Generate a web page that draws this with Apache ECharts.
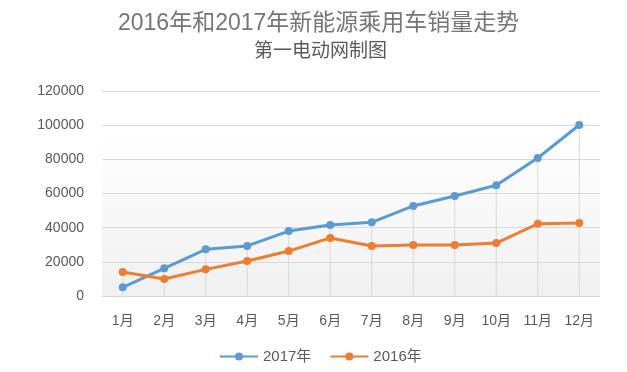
<!DOCTYPE html>
<html>
<head>
<meta charset="utf-8">
<script src="https://cdn.jsdelivr.net/npm/echarts@6/dist/echarts.min.js"></script>
<style>html,body{margin:0;padding:0;background:#fff}#c{width:627px;height:372px}</style>
</head>
<body>
<div id="c"></div>
<script>
const categories = ['1月','2月','3月','4月','5月','6月','7月','8月','9月','10月','11月','12月'];
const sales2017 = [5100, 16200, 27300, 29300, 38000, 41600, 43100, 52700, 58500, 64800, 80800, 100100];
const sales2016 = [14000, 9950, 15600, 20500, 26300, 34000, 29300, 29900, 29900, 31000, 42300, 42700];
const yTicks = { min: 0, max: 120000, interval: 20000 };
const dropTops = categories.map((c, i) => Math.max(sales2017[i], sales2016[i]));

const FONT = '"Liberation Sans", "Noto Sans CJK SC", sans-serif';
const chart = echarts.init(document.getElementById('c'), null, { renderer: 'canvas' });
chart.setOption({
  animation: false,
  textStyle: { fontFamily: FONT },
  title: [
    {
      text: '2016年和2017年新能源乘用车销量走势',
      left: 113,
      top: 7,
      textStyle: { fontFamily: FONT, fontSize: 23, fontWeight: 'normal', color: '#767676' }
    },
    {
      text: '第一电动网制图',
      left: 249,
      top: 37,
      textStyle: { fontFamily: FONT, fontSize: 19, fontWeight: 'normal', color: '#595959' }
    }
  ],
  legend: {
    data: ['2017年', '2016年'],
    bottom: 3,
    left: 214,
    itemWidth: 38,
    itemHeight: 10,
    itemGap: 18,
    textStyle: { fontFamily: FONT, fontSize: 15, color: '#595959' }
  },
  grid: {
    left: 102, right: 27, top: 91, bottom: 76,
    show: true,
    borderWidth: 0,
    backgroundColor: new echarts.graphic.LinearGradient(0, 0, 0, 1, [
      { offset: 0, color: '#ffffff' },
      { offset: 0.2, color: '#ffffff' },
      { offset: 1, color: '#f0f0f0' }
    ])
  },
  xAxis: {
    type: 'category',
    data: categories,
    boundaryGap: true,
    axisLine: { show: true, lineStyle: { color: '#d9d9d9' } },
    axisTick: { show: false },
    axisLabel: { fontFamily: FONT, fontSize: 14, color: '#595959', margin: 18 },
    splitLine: { show: false }
  },
  yAxis: {
    type: 'value',
    min: yTicks.min, max: yTicks.max, interval: yTicks.interval,
    axisLine: { show: false },
    axisTick: { show: false },
    axisLabel: { fontFamily: FONT, fontSize: 14, color: '#595959', margin: 18, formatter: v => String(v) },
    splitLine: { lineStyle: { color: '#d9d9d9', width: 1 } }
  },
  series: [
    {
      name: 'drop', type: 'bar', data: dropTops, barWidth: 1, silent: true,
      itemStyle: { color: '#d9d9d9' }, z: 1, legendHoverLink: false
    },
    {
      name: '2017年', type: 'line', data: sales2017,
      symbol: 'circle', symbolSize: 8,
      lineStyle: { color: '#5b9bd5', width: 3 },
      itemStyle: { color: '#5b9bd5' }, z: 3
    },
    {
      name: '2016年', type: 'line', data: sales2016,
      symbol: 'circle', symbolSize: 8,
      lineStyle: { color: '#ed7d31', width: 3 },
      itemStyle: { color: '#ed7d31' }, z: 3
    }
  ]
});
</script>
</body>
</html>
